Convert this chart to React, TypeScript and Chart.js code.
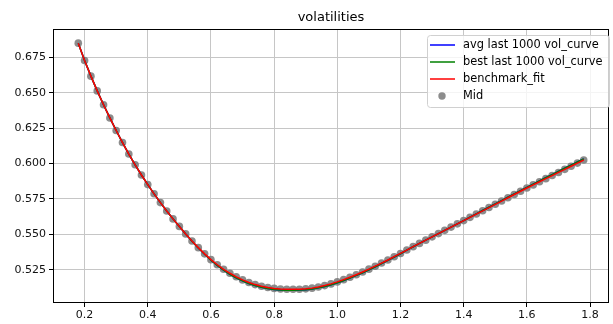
import React, { useEffect, useRef } from "react";
import { Chart, registerables } from "chart.js";

Chart.register(...registerables);

const chartTitle = "volatilities";

const strikes = [
  0.18, 0.2, 0.22, 0.24, 0.26, 0.28, 0.3, 0.32, 0.34, 0.36, 0.38, 0.4, 0.42, 0.44, 0.46, 0.48, 0.5,
  0.52, 0.54, 0.56, 0.58, 0.6, 0.62, 0.64, 0.66, 0.68, 0.7, 0.72, 0.74, 0.76, 0.78, 0.8, 0.82, 0.84,
  0.86, 0.88, 0.9, 0.92, 0.94, 0.96, 0.98, 1.0, 1.02, 1.04, 1.06, 1.08, 1.1, 1.12, 1.14, 1.16, 1.18,
  1.2, 1.22, 1.24, 1.26, 1.28, 1.3, 1.32, 1.34, 1.36, 1.38, 1.4, 1.42, 1.44, 1.46, 1.48, 1.5, 1.52,
  1.54, 1.56, 1.58, 1.6, 1.62, 1.64, 1.66, 1.68, 1.7, 1.72, 1.74, 1.76, 1.78,
];

const midVols = [
  0.685, 0.6728, 0.6617, 0.6513, 0.6415, 0.6322, 0.6233, 0.6148, 0.6067, 0.5991, 0.5919, 0.5851,
  0.5786, 0.5724, 0.5665, 0.5609, 0.5556,
  0.5503, 0.5453, 0.5406, 0.5362, 0.5321, 0.5285, 0.5253, 0.5225, 0.52, 0.5178, 0.516, 0.5145,
  0.5133, 0.5124, 0.5118, 0.5114, 0.5112,
  0.5112, 0.5112, 0.5115, 0.512, 0.5128, 0.5138, 0.515, 0.5164, 0.518, 0.5197, 0.5215, 0.5234,
  0.5254, 0.5275, 0.5297, 0.5319, 0.5342,
  0.5365, 0.5389, 0.5413, 0.5436, 0.5459, 0.5482, 0.5505, 0.5528, 0.5551, 0.5574, 0.5597, 0.562,
  0.5643, 0.5666, 0.5689, 0.5712, 0.5735,
  0.5758, 0.5781, 0.5804, 0.5827, 0.5849, 0.5871, 0.5893, 0.5915, 0.5937, 0.5959, 0.5981, 0.6003,
  0.6025,
];

const benchmarkFit = [
  0.685, 0.6728, 0.6617, 0.6513, 0.6415, 0.6322, 0.6233, 0.6148, 0.6067, 0.5991, 0.5919, 0.5851,
  0.5786, 0.5724, 0.5665, 0.5609, 0.5556,
  0.5503, 0.5453, 0.5406, 0.5362, 0.5321, 0.5285, 0.5253, 0.5225, 0.52, 0.5178, 0.516, 0.5145,
  0.5133, 0.5124, 0.5118, 0.5114, 0.5112,
  0.5112, 0.5112, 0.5115, 0.512, 0.5128, 0.5138, 0.515, 0.5164, 0.518, 0.5197, 0.5215, 0.5234,
  0.5254, 0.5275, 0.5297, 0.5319, 0.5342,
  0.5365, 0.5389, 0.5413, 0.5436, 0.5459, 0.5482, 0.5505, 0.5528, 0.5551, 0.5574, 0.5597, 0.562,
  0.5643, 0.5666, 0.5689, 0.5712, 0.5735,
  0.5758, 0.5781, 0.5804, 0.5827, 0.5849, 0.5871, 0.5893, 0.5915, 0.5937, 0.5959, 0.5981, 0.6003,
  0.6025,
];

const bestVols = [
  0.685, 0.6728, 0.6617, 0.6513, 0.6415, 0.6322, 0.6233, 0.6148, 0.6067, 0.5991, 0.5919, 0.5851,
  0.5786, 0.5724, 0.5665, 0.5609, 0.5556,
  0.5502, 0.5451, 0.5404, 0.5359, 0.5317, 0.528, 0.5247, 0.5218, 0.5193, 0.5171, 0.5153, 0.5138,
  0.5126, 0.5117, 0.5111, 0.5107, 0.5105,
  0.5105, 0.5106, 0.5109, 0.5114, 0.5122, 0.5132, 0.5144, 0.5158, 0.5174, 0.5191, 0.521, 0.5229,
  0.525, 0.5271, 0.5294, 0.5316, 0.534,
  0.5363, 0.5388, 0.5412, 0.5436, 0.5459, 0.5482, 0.5505, 0.5528, 0.5551, 0.5574, 0.5597, 0.5621,
  0.5644, 0.5668, 0.5691, 0.5715, 0.5738,
  0.5762, 0.5785, 0.5809, 0.5832, 0.5855, 0.5877, 0.59, 0.5922, 0.5945, 0.5967, 0.5989, 0.6011,
  0.6033,
];

const avgVols = [
  0.685, 0.6728, 0.6617, 0.6513, 0.6415, 0.6322, 0.6233, 0.6148, 0.6067, 0.5991, 0.5919, 0.5851,
  0.5786, 0.5724, 0.5665, 0.5609, 0.5556,
  0.5502, 0.5451, 0.5404, 0.5359, 0.5317, 0.528, 0.5247, 0.5218, 0.5193, 0.5171, 0.5153, 0.5138,
  0.5126, 0.5117, 0.5111, 0.5107, 0.5105,
  0.5105, 0.5106, 0.5109, 0.5114, 0.5122, 0.5132, 0.5144, 0.5158, 0.5174, 0.5191, 0.521, 0.5229,
  0.525, 0.5271, 0.5294, 0.5316, 0.534,
  0.5363, 0.5388, 0.5412, 0.5436, 0.5459, 0.5482, 0.5505, 0.5528, 0.5551, 0.5574, 0.5597, 0.5621,
  0.5644, 0.5668, 0.5691, 0.5715, 0.5738,
  0.5762, 0.5785, 0.5809, 0.5832, 0.5855, 0.5877, 0.59, 0.5922, 0.5945, 0.5967, 0.5989, 0.6011,
  0.6033,
];

const xTicks = [0.2, 0.4, 0.6, 0.8, 1.0, 1.2, 1.4, 1.6, 1.8];
const yTicks = [0.525, 0.55, 0.575, 0.6, 0.625, 0.65, 0.675];

const seriesLabels = ["avg last 1000 vol_curve", "best last 1000 vol_curve", "benchmark_fit", "Mid"];
const seriesColors = ["#0000ff", "#008000", "#ff0000", "rgba(120,120,120,0.85)"];

const FONT = "'DejaVu Sans', sans-serif";

function toPoints(values: number[]) {
  return strikes.map((x, i) => ({ x, y: values[i] }));
}

const decorPlugin = {
  id: "decor",
  afterDraw(chart: any) {
    const ctx = chart.ctx as CanvasRenderingContext2D;
    const a = chart.chartArea;
    ctx.save();
    ctx.strokeStyle = "#000";
    ctx.lineWidth = 1;
    ctx.strokeRect(a.left + 0.5, a.top + 0.5, a.right - a.left - 1, a.bottom - a.top - 1);
    ctx.fillStyle = "#000";
    ctx.font = `13px ${FONT}`;
    ctx.textAlign = "center";
    ctx.textBaseline = "middle";
    ctx.fillText(chartTitle, (a.left + a.right) / 2, 18);
    const bx = 427, by = 35, bw = 182, bh = 72;
    ctx.beginPath();
    (ctx as any).roundRect(bx + 0.5, by + 0.5, bw, bh, 3);
    ctx.fillStyle = "rgba(255,255,255,0.8)";
    ctx.fill();
    ctx.strokeStyle = "#d0d0d0";
    ctx.lineWidth = 1;
    ctx.stroke();
    ctx.font = `11.4px ${FONT}`;
    ctx.textAlign = "left";
    ctx.textBaseline = "middle";
    const rows = [45, 62, 79, 96];
    seriesLabels.forEach((lab, i) => {
      const y = rows[i];
      if (i < 3) {
        ctx.strokeStyle = seriesColors[i];
        ctx.lineWidth = 1.5;
        ctx.beginPath();
        ctx.moveTo(430, y);
        ctx.lineTo(455, y);
        ctx.stroke();
      } else {
        ctx.fillStyle = seriesColors[i];
        ctx.beginPath();
        ctx.arc(442, y, 3.7, 0, Math.PI * 2);
        ctx.fill();
      }
      ctx.fillStyle = "#000";
      ctx.fillText(lab, 463, y);
    });
    ctx.restore();
  },
};

export default function App() {
  const ref = useRef<HTMLCanvasElement>(null);
  useEffect(() => {
    if (!ref.current) return;
    const lineDs = (i: number, values: number[], order: number) => ({
      label: seriesLabels[i],
      data: toPoints(values),
      showLine: true,
      borderColor: seriesColors[i],
      backgroundColor: seriesColors[i],
      borderWidth: 1.5,
      pointRadius: 0,
      tension: 0,
      order,
    });
    const chart = new Chart(ref.current, {
      type: "scatter",
      data: {
        datasets: [
          lineDs(0, avgVols, 3),
          lineDs(1, bestVols, 2),
          lineDs(2, benchmarkFit, 1),
          {
            label: seriesLabels[3],
            data: toPoints(midVols),
            showLine: false,
            pointRadius: 3.8,
            pointBorderWidth: 0,
            backgroundColor: seriesColors[3],
            borderColor: seriesColors[3],
            order: 4,
          },
        ],
      },
      options: {
        responsive: false,
        animation: false,
        devicePixelRatio: 1,
        layout: { padding: { top: 29, right: 1, left: 0, bottom: 0 } },
        plugins: { legend: { display: false }, title: { display: false }, tooltip: { enabled: false } },
        scales: {
          x: {
            type: "linear",
            min: 0.1,
            max: 1.86,
            afterBuildTicks: (s: any) => {
              s.ticks = xTicks.map((v) => ({ value: v }));
            },
            afterFit: (s: any) => {
              s.height = 21;
            },
            grid: { color: "#c6c6c6", lineWidth: 1, tickLength: 4, tickColor: "#000", tickWidth: 1 },
            border: { display: false },
            ticks: {
              font: { family: "DejaVu Sans", size: 11 },
              color: "#111",
              padding: 2,
              maxRotation: 0,
              autoSkip: false,
              callback: (v: any) => Number(v).toFixed(1),
            },
          },
          y: {
            type: "linear",
            min: 0.5015,
            max: 0.695,
            afterBuildTicks: (s: any) => {
              s.ticks = yTicks.map((v) => ({ value: v }));
            },
            afterFit: (s: any) => {
              s.width = 53;
            },
            grid: { color: "#c6c6c6", lineWidth: 1, tickLength: 4, tickColor: "#000", tickWidth: 1 },
            border: { display: false },
            ticks: {
              font: { family: "DejaVu Sans", size: 11 },
              color: "#111",
              padding: 3,
              autoSkip: false,
              callback: (v: any) => Number(v).toFixed(3),
            },
          },
        },
      },
      plugins: [decorPlugin],
    } as any);
    return () => chart.destroy();
  }, []);
  return (
    <div style={{ position: "absolute", left: 0, top: 0, width: 613, height: 324, background: "#fff" }}>
      <canvas ref={ref} width={613} height={324} style={{ display: "block" }} />
    </div>
  );
}
